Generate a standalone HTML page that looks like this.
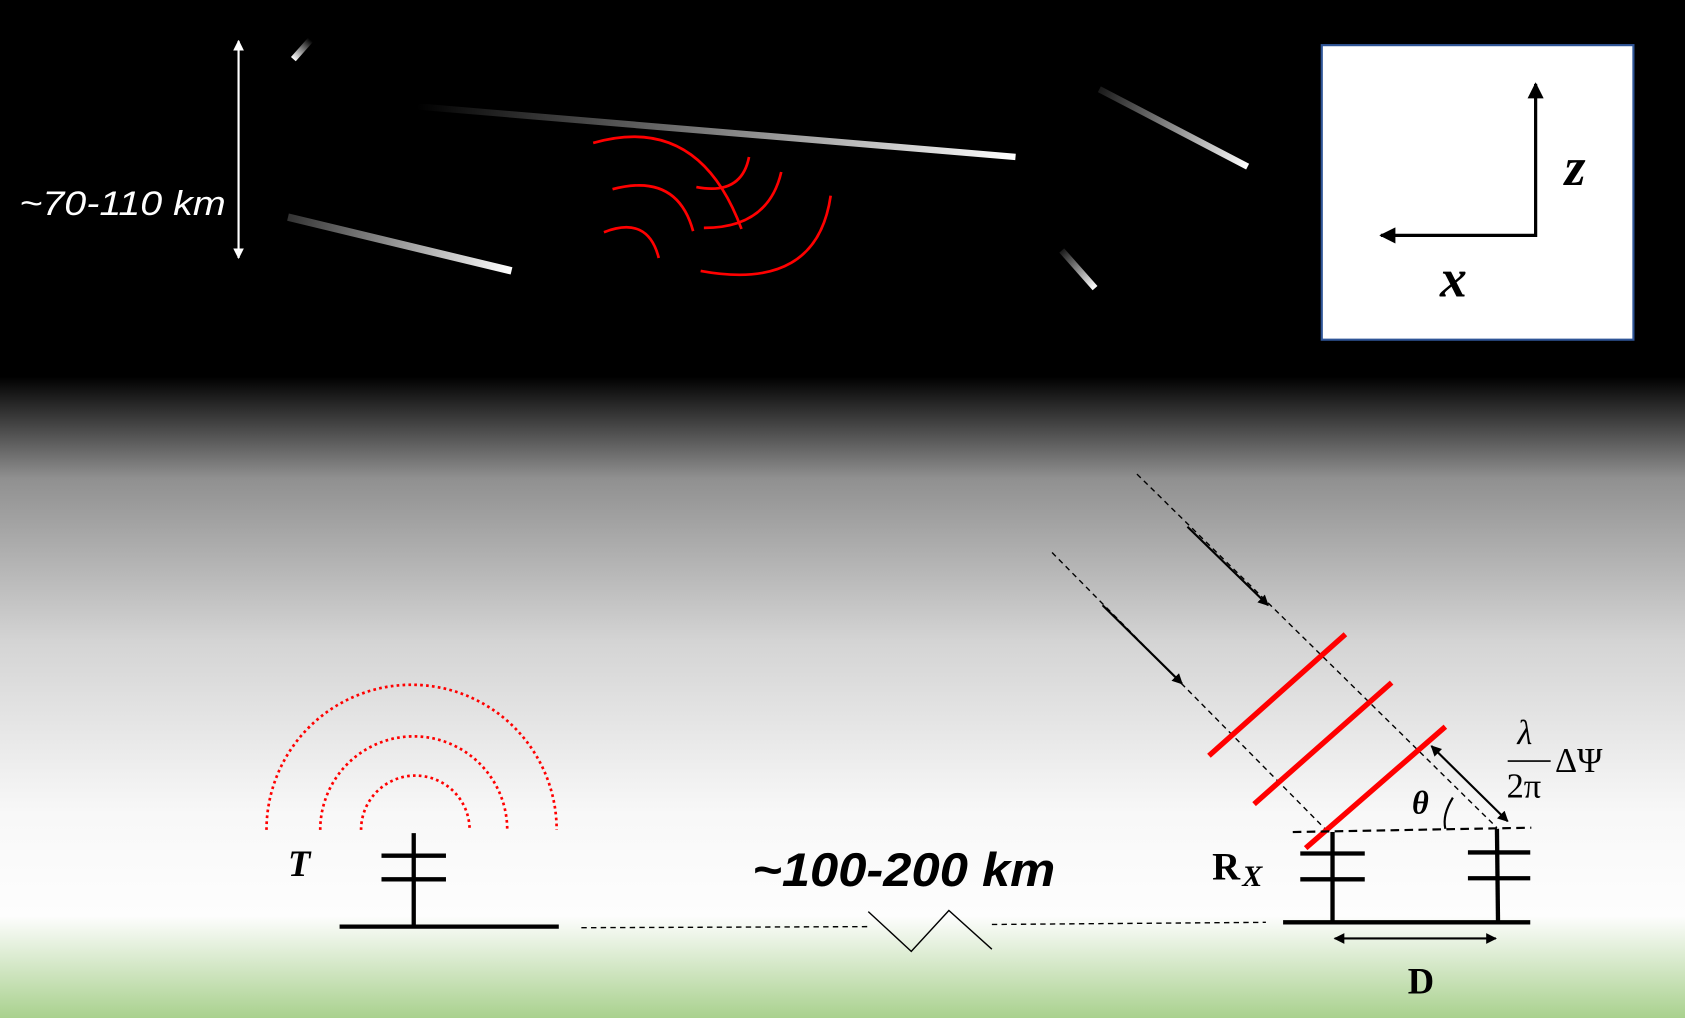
<!DOCTYPE html>
<html><head><meta charset="utf-8"><style>html,body{margin:0;padding:0;background:#000}svg{display:block}</style></head>
<body>
<svg width="1685" height="1018" viewBox="0 0 1568 947" preserveAspectRatio="none" xmlns="http://www.w3.org/2000/svg">
<defs>
<linearGradient id="bg" x1="0" y1="0" x2="0" y2="947" gradientUnits="userSpaceOnUse">
<stop offset="0" stop-color="#000"/><stop offset="0.37" stop-color="#000"/>
<stop offset="0.47" stop-color="#909090"/><stop offset="0.63" stop-color="#d4d4d4"/>
<stop offset="0.8" stop-color="#f8f8f8"/><stop offset="0.9" stop-color="#fdfdfd"/>
<stop offset="1" stop-color="#a9d18e"/></linearGradient>
<linearGradient id="m1" x1="388" y1="99" x2="945" y2="146" gradientUnits="userSpaceOnUse"><stop offset="0" stop-color="#fff" stop-opacity="0"/><stop offset="1" stop-color="#fff"/></linearGradient>
<linearGradient id="m2" x1="268" y1="202" x2="476" y2="252" gradientUnits="userSpaceOnUse"><stop offset="0" stop-color="#fff" stop-opacity="0.2"/><stop offset="1" stop-color="#fff"/></linearGradient>
<linearGradient id="m3" x1="289" y1="37" x2="273" y2="55" gradientUnits="userSpaceOnUse"><stop offset="0" stop-color="#fff" stop-opacity="0"/><stop offset="1" stop-color="#fff"/></linearGradient>
<linearGradient id="m4" x1="1023" y1="83" x2="1161" y2="155" gradientUnits="userSpaceOnUse"><stop offset="0" stop-color="#fff" stop-opacity="0.1"/><stop offset="1" stop-color="#fff"/></linearGradient>
<linearGradient id="m5" x1="988" y1="233" x2="1019" y2="268" gradientUnits="userSpaceOnUse"><stop offset="0" stop-color="#fff" stop-opacity="0.1"/><stop offset="1" stop-color="#fff"/></linearGradient>
<marker id="ab" viewBox="0 0 10 10" refX="9" refY="5" markerWidth="5" markerHeight="5" orient="auto-start-reverse"><path d="M0,0L10,5L0,10z" fill="#000"/></marker>
<marker id="aw" viewBox="0 0 10 10" refX="9" refY="5" markerWidth="5" markerHeight="5" orient="auto-start-reverse"><path d="M0,0L10,5L0,10z" fill="#fff"/></marker>
</defs>
<rect width="1568" height="947" fill="url(#bg)"/>
<line x1="388" y1="99" x2="945" y2="146" stroke="url(#m1)" stroke-width="6"/>
<line x1="268" y1="202" x2="476" y2="252" stroke="url(#m2)" stroke-width="7"/>
<line x1="289" y1="37" x2="273" y2="55" stroke="url(#m3)" stroke-width="6"/>
<line x1="1023" y1="83" x2="1161" y2="155" stroke="url(#m4)" stroke-width="6"/>
<line x1="988" y1="233" x2="1019" y2="268" stroke="url(#m5)" stroke-width="6"/>
<g fill="none" stroke="#f00" stroke-width="2.5">
<path d="M552,133 Q650,105 690,213"/>
<path d="M570,176 Q630,160 645,215"/>
<path d="M562,216 Q603,200 613,240"/>
<path d="M648,174 Q690,182 697,146"/>
<path d="M655,212 Q715,212 727,160"/>
<path d="M652,252 Q760,272 773,182"/>
</g>
<line x1="222" y1="38" x2="222" y2="240" stroke="#fff" stroke-width="2" marker-start="url(#aw)" marker-end="url(#aw)"/>
<text x="18" y="200" fill="#fff" font-family="Liberation Sans Narrow, Liberation Sans, sans-serif" font-style="italic" font-size="32" textLength="192" lengthAdjust="spacingAndGlyphs">~70-110 km</text>
<rect x="1230" y="42" width="290" height="274" fill="#fff" stroke="#2f5597" stroke-width="2"/>
<polyline points="1429,78 1429,219 1285,219" fill="none" stroke="#000" stroke-width="3" marker-start="url(#ab)" marker-end="url(#ab)"/>
<text x="1456" y="172" font-family="Liberation Serif, serif" font-style="italic" font-weight="bold" font-size="50">z</text>
<text x="1340" y="276" font-family="Liberation Serif, serif" font-style="italic" font-weight="bold" font-size="50">x</text>
<g fill="none" stroke="#f00" stroke-width="2.5" stroke-dasharray="2.5,3">
<path d="M248,772 A135,135 0 0 1 518,772"/>
<path d="M298,772 A86,86 0 0 1 472,772"/>
<path d="M336,772 A50,50 0 0 1 437,772"/>
</g>
<g stroke="#000" stroke-width="4">
<line x1="385" y1="775" x2="385" y2="862"/>
<line x1="355" y1="796" x2="415" y2="796"/><line x1="355" y1="818" x2="415" y2="818"/>
<line x1="316" y1="862" x2="520" y2="862"/>
</g>
<text x="268" y="815" font-family="Liberation Serif, serif" font-style="italic" font-weight="bold" font-size="34">T</text>
<line x1="541" y1="863" x2="808" y2="862" stroke="#000" stroke-width="1.3" stroke-dasharray="5,4"/>
<polyline points="808,848 848,885 883,847 923,883" fill="none" stroke="#000" stroke-width="1.3"/>
<line x1="923" y1="860" x2="1178" y2="858" stroke="#000" stroke-width="1.3" stroke-dasharray="5,4"/>
<text x="700" y="824" font-family="Liberation Sans, sans-serif" font-style="italic" font-weight="bold" font-size="44" textLength="282" lengthAdjust="spacingAndGlyphs">~100-200 km</text>
<line x1="1058" y1="441" x2="1393" y2="770" stroke="#000" stroke-width="1.3" stroke-dasharray="5,4"/>
<line x1="979" y1="514" x2="1235" y2="773" stroke="#000" stroke-width="1.3" stroke-dasharray="5,4"/>
<line x1="1105" y1="490" x2="1180" y2="563" stroke="#000" stroke-width="2" marker-end="url(#ab)"/>
<line x1="1026" y1="563" x2="1100" y2="636" stroke="#000" stroke-width="2" marker-end="url(#ab)"/>
<g stroke="#f00" stroke-width="5">
<line x1="1125" y1="703" x2="1252" y2="590"/>
<line x1="1167" y1="748" x2="1295" y2="635"/>
<line x1="1215" y1="789" x2="1345" y2="676"/>
</g>
<line x1="1332" y1="694" x2="1403" y2="764" stroke="#000" stroke-width="2" marker-start="url(#ab)" marker-end="url(#ab)"/>
<line x1="1203" y1="774" x2="1425" y2="770" stroke="#000" stroke-width="2" stroke-dasharray="8,5"/>
<path d="M1352,742 Q1342,758 1345,771" fill="none" stroke="#000" stroke-width="2"/>
<text x="1314" y="757" font-family="Liberation Serif, serif" font-style="italic" font-weight="bold" font-size="30">θ</text>
<g stroke="#000" stroke-width="4">
<line x1="1240" y1="774" x2="1240" y2="858"/>
<line x1="1210" y1="794" x2="1270" y2="794"/><line x1="1210" y1="818" x2="1270" y2="818"/>
<line x1="1393" y1="771" x2="1394" y2="858"/>
<line x1="1366" y1="793" x2="1424" y2="793"/><line x1="1366" y1="817" x2="1424" y2="817"/>
<line x1="1194" y1="858" x2="1424" y2="858"/>
</g>
<line x1="1242" y1="873" x2="1392" y2="873" stroke="#000" stroke-width="2" marker-start="url(#ab)" marker-end="url(#ab)"/>
<text x="1128" y="818" font-family="Liberation Serif, serif" font-weight="bold" font-size="36">R</text>
<text x="1156" y="824" font-family="Liberation Serif, serif" font-style="italic" font-weight="bold" font-size="28">X</text>
<text x="1310" y="924" font-family="Liberation Serif, serif" font-weight="bold" font-size="34">D</text>
<text x="1412" y="692" font-family="Liberation Serif, serif" font-style="italic" font-size="32">λ</text>
<line x1="1403" y1="708" x2="1443" y2="708" stroke="#000" stroke-width="1.5"/>
<text x="1402" y="742" font-family="Liberation Serif, serif" font-size="32">2π</text>
<text x="1447" y="718" font-family="Liberation Serif, serif" font-size="32">ΔΨ</text>
</svg>
</body></html>
